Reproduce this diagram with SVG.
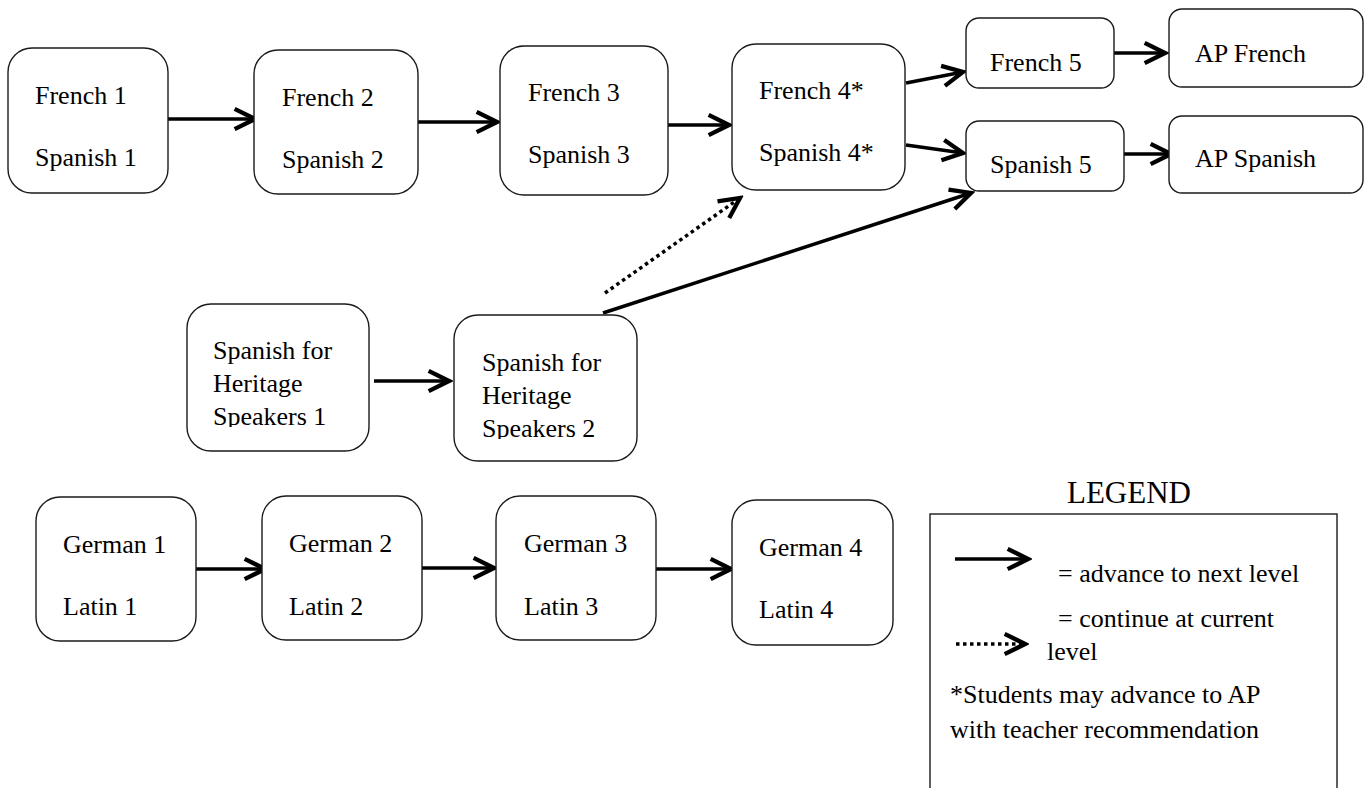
<svg xmlns="http://www.w3.org/2000/svg" width="1371" height="788" viewBox="0 0 1371 788">
<style>
.box{fill:#fff;stroke:#1a1a1a;stroke-width:1.4}
.t{font-family:"Liberation Serif","Times New Roman",serif;font-size:26px;fill:#000}
.c{fill:none;stroke:#000;stroke-width:3.5}
.d{fill:none;stroke:#000;stroke-width:3.5;stroke-dasharray:3.5 3.5}
</style>
<defs>
<marker id="ah" markerUnits="userSpaceOnUse" markerWidth="30" markerHeight="30" viewBox="-24 -14 28 28" refX="0" refY="0" orient="auto">
<path d="M-19,-9.5 L0,0 L-19,9.5" fill="none" stroke="#000" stroke-width="4" stroke-linejoin="miter"/>
</marker>
<clipPath id="clip1"><rect x="187" y="300" width="182" height="127"/></clipPath>
<clipPath id="clip2"><rect x="454" y="310" width="183" height="129"/></clipPath>
</defs>
<rect width="1371" height="788" fill="#fff"/>
<g id="connectors">
<line class="c" x1="168" y1="119" x2="255" y2="119" marker-end="url(#ah)"/>
<line class="c" x1="418" y1="122" x2="497" y2="122" marker-end="url(#ah)"/>
<line class="c" x1="668" y1="125" x2="729" y2="125" marker-end="url(#ah)"/>
<line class="c" x1="906" y1="83" x2="963" y2="72" marker-end="url(#ah)"/>
<line class="c" x1="906" y1="145" x2="963" y2="153" marker-end="url(#ah)"/>
<line class="c" x1="1114" y1="53" x2="1165" y2="53" marker-end="url(#ah)"/>
<line class="c" x1="1124" y1="154" x2="1171" y2="154" marker-end="url(#ah)"/>
<line class="d" x1="605" y1="293" x2="740" y2="198" marker-end="url(#ah)"/>
<line class="c" x1="603" y1="313" x2="971" y2="193" marker-end="url(#ah)"/>
<line class="c" x1="374" y1="381" x2="449" y2="381" marker-end="url(#ah)"/>
<line class="c" x1="193" y1="569" x2="265" y2="569" marker-end="url(#ah)"/>
<line class="c" x1="422" y1="568" x2="494" y2="568" marker-end="url(#ah)"/>
<line class="c" x1="656" y1="569" x2="731" y2="569" marker-end="url(#ah)"/>
</g>
<g id="french1"><rect class="box" x="8" y="48" width="160" height="145" rx="24"/><text class="t" x="35" y="104">French 1</text><text class="t" x="35" y="166">Spanish 1</text></g>
<g id="french2"><rect class="box" x="254" y="50" width="164" height="144" rx="24"/><text class="t" x="282" y="106">French 2</text><text class="t" x="282" y="168">Spanish 2</text></g>
<g id="french3"><rect class="box" x="500" y="46" width="168" height="149" rx="24"/><text class="t" x="528" y="101">French 3</text><text class="t" x="528" y="163">Spanish 3</text></g>
<g id="french4"><rect class="box" x="732" y="44" width="173" height="146" rx="24"/><text class="t" x="759" y="99">French 4*</text><text class="t" x="759" y="161">Spanish 4*</text></g>
<g id="french5"><rect class="box" x="966" y="18" width="148" height="70" rx="13"/><text class="t" x="990" y="71">French 5</text></g>
<g id="apfrench"><rect class="box" x="1169" y="9" width="194" height="78" rx="13"/><text class="t" x="1195" y="62">AP French</text></g>
<g id="spanish5"><rect class="box" x="966" y="121" width="158" height="70" rx="13"/><text class="t" x="990" y="173">Spanish 5</text></g>
<g id="apspanish"><rect class="box" x="1169" y="116" width="194" height="77" rx="13"/><text class="t" x="1195" y="167">AP Spanish</text></g>
<g id="shs1"><rect class="box" x="187" y="304" width="182" height="147" rx="24"/><g clip-path="url(#clip1)"><text class="t" x="213" y="359">Spanish for</text><text class="t" x="213" y="392">Heritage</text><text class="t" x="213" y="425">Speakers 1</text></g></g>
<g id="shs2"><rect class="box" x="454" y="315" width="183" height="146" rx="24"/><g clip-path="url(#clip2)"><text class="t" x="482" y="371">Spanish for</text><text class="t" x="482" y="404">Heritage</text><text class="t" x="482" y="437">Speakers 2</text></g></g>
<g id="german1"><rect class="box" x="36" y="497" width="160" height="144" rx="24"/><text class="t" x="63" y="553">German 1</text><text class="t" x="63" y="615">Latin 1</text></g>
<g id="german2"><rect class="box" x="262" y="496" width="160" height="144" rx="24"/><text class="t" x="289" y="552">German 2</text><text class="t" x="289" y="615">Latin 2</text></g>
<g id="german3"><rect class="box" x="496" y="496" width="160" height="144" rx="24"/><text class="t" x="524" y="552">German 3</text><text class="t" x="524" y="615">Latin 3</text></g>
<g id="german4"><rect class="box" x="732" y="500" width="161" height="145" rx="24"/><text class="t" x="759" y="556">German 4</text><text class="t" x="759" y="618">Latin 4</text></g>
<g id="legend">
<text class="t" x="1067" y="503" style="font-size:31px">LEGEND</text>
<rect x="930" y="514" width="407" height="290" fill="none" stroke="#1a1a1a" stroke-width="1.4"/>
<line class="c" x1="955" y1="559" x2="1028" y2="559" marker-end="url(#ah)"/>
<text class="t" x="1058" y="582">= advance to next level</text>
<text class="t" x="1058" y="627">= continue at current</text>
<line class="d" x1="956" y1="644" x2="1025" y2="644" marker-end="url(#ah)"/>
<text class="t" x="1047" y="660">level</text>
<text class="t" x="950" y="703">*Students may advance to AP</text>
<text class="t" x="950" y="738">with teacher recommendation</text>
</g>
</svg>
